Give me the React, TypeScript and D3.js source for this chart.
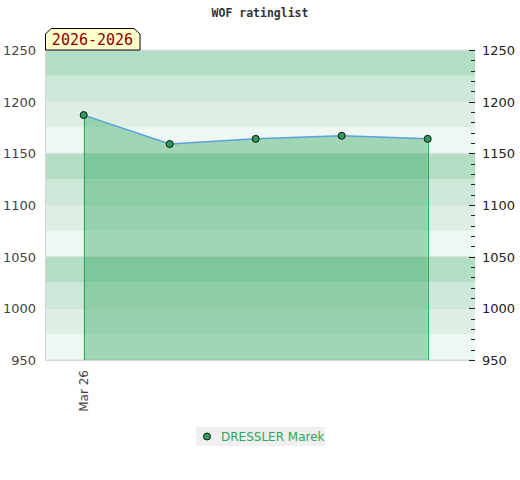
import { useEffect, useRef } from "react"
import * as d3 from "d3"

// ratings over time for one player
const dates = ["Mar 26", "", "", "", ""]
const ratings = [1187, 1159, 1164, 1167, 1164]
const yTicks = [950, 1000, 1050, 1100, 1150, 1200, 1250]
const bandColors = ["#b3dec5", "#cbe8d8", "#ddefe5", "#eff7f2"]
const playerName = "DRESSLER Marek"
const periodLabel = "2026-2026"
const title = "WOF ratinglist"

const App = () => {
  const svgRef = useRef<SVGSVGElement | null>(null)

  useEffect(() => {
    if (!svgRef.current) return
    const svg = d3.select(svgRef.current)
    svg.selectAll("*").remove()

    const width = 520
    const height = 480
    const margin = { top: 50, right: 45, bottom: 120, left: 45 }
    const x0 = margin.left
    const x1 = width - margin.right
    const y0 = height - margin.bottom
    const y1 = margin.top

    const x = d3.scaleLinear().domain([-0.45, dates.length - 0.45]).range([x0, x1])
    const y = d3.scaleLinear().domain([950, 1250]).range([y0, y1])

    // background bands every 25 points
    const bands = d3.range(950, 1250, 25)
    svg
      .append("g")
      .selectAll("rect")
      .data(bands)
      .join("rect")
      .attr("x", x0)
      .attr("width", x1 - x0)
      .attr("y", (d) => y(d + 25))
      .attr("height", (d) => y(d) - y(d + 25))
      .attr("fill", (d) => bandColors[3 - ((d - 950) / 25) % 4])

    // grid lines
    svg
      .append("g")
      .selectAll("line")
      .data(yTicks)
      .join("line")
      .attr("x1", x0)
      .attr("x2", x1)
      .attr("y1", (d) => y(d))
      .attr("y2", (d) => y(d))
      .attr("stroke", "#dddddd")
      .attr("stroke-width", 1)

    // frame
    svg
      .append("path")
      .attr("d", `M${x0 + 0.5},${y0}V${y1 + 0.5}H${x1}`)
      .attr("fill", "none")
      .attr("stroke", "#d6d6d6")
    svg
      .append("line")
      .attr("x1", x0)
      .attr("x2", x1)
      .attr("y1", y0 + 0.5)
      .attr("y2", y0 + 0.5)
      .attr("stroke", "#d6d6d6")

    const pts = ratings.map((r, i) => [i, r] as [number, number])

    // area
    const area = d3
      .area<[number, number]>()
      .x((d) => x(d[0]))
      .y0(y0)
      .y1((d) => y(d[1]))
    svg
      .append("path")
      .attr("d", area(pts))
      .attr("fill", "#2ea65a")
      .attr("fill-opacity", 0.4)

    // green edges of the area
    const ends = [pts[0], pts[pts.length - 1]]
    svg
      .append("g")
      .selectAll("line")
      .data(ends)
      .join("line")
      .attr("x1", (d) => Math.round(x(d[0])) + 0.5)
      .attr("x2", (d) => Math.round(x(d[0])) + 0.5)
      .attr("y1", (d) => y(d[1]))
      .attr("y2", y0)
      .attr("stroke", "#2ea65a")
      .attr("stroke-width", 1)

    // line
    const line = d3
      .line<[number, number]>()
      .x((d) => x(d[0]))
      .y((d) => y(d[1]))
    svg
      .append("path")
      .attr("d", line(pts))
      .attr("fill", "none")
      .attr("stroke", "#5aa0dc")
      .attr("stroke-width", 1.5)

    // points
    svg
      .append("g")
      .selectAll("circle")
      .data(pts)
      .join("circle")
      .attr("cx", (d) => x(d[0]))
      .attr("cy", (d) => y(d[1]))
      .attr("r", 3.5)
      .attr("fill", "#2e9e5a")
      .attr("stroke", "#111")
      .attr("stroke-width", 1)

    // left axis labels
    svg
      .append("g")
      .selectAll("text")
      .data(yTicks)
      .join("text")
      .attr("x", x0 - 9)
      .attr("y", (d) => y(d) + 5)
      .attr("text-anchor", "end")
      .attr("font-family", "DejaVu Sans, sans-serif")
      .attr("font-size", 13)
      .attr("fill", "#444")
      .text((d) => d)

    // right axis ticks and labels
    svg
      .append("g")
      .selectAll("line")
      .data(d3.range(950, 1251, 10))
      .join("line")
      .attr("x1", (d) => (d % 50 === 0 ? x1 - 6 : x1 - 4))
      .attr("x2", x1)
      .attr("y1", (d) => Math.round(y(d)) + 0.5)
      .attr("y2", (d) => Math.round(y(d)) + 0.5)
      .attr("stroke", "#222")
    svg
      .append("g")
      .selectAll("text")
      .data(yTicks)
      .join("text")
      .attr("x", x1 + 7)
      .attr("y", (d) => y(d) + 5)
      .attr("font-family", "DejaVu Sans, sans-serif")
      .attr("font-size", 13)
      .attr("fill", "#222")
      .text((d) => d)

    // x labels
    svg
      .append("g")
      .selectAll("text")
      .data(dates)
      .join("text")
      .attr("transform", (_, i) => `translate(${x(i) + 4},${y0 + 10}) rotate(-90)`)
      .attr("text-anchor", "end")
      .attr("font-family", "DejaVu Sans, sans-serif")
      .attr("font-size", 12)
      .attr("fill", "#444")
      .text((d) => d)

    // title
    svg
      .append("text")
      .attr("x", width / 2)
      .attr("y", 17)
      .attr("text-anchor", "middle")
      .attr("font-family", "DejaVu Sans Mono, monospace")
      .attr("font-weight", "bold")
      .attr("font-size", 11.5)
      .attr("fill", "#333")
      .text(title)

    // period label box with cut corners
    const bx = x0
    const bw = 95
    const by = 28
    const bh = 22
    svg
      .append("path")
      .attr(
        "d",
        `M${bx + 0.5},${by + bh}V${by + 6}L${bx + 6},${by + 0.5}H${bx + bw - 6}L${bx + bw},${by + 6}V${by + bh}Z`,
      )
      .attr("fill", "#ffffcc")
      .attr("stroke", "#000")
      .attr("stroke-width", 1)
    svg
      .append("text")
      .attr("x", bx + bw / 2)
      .attr("y", by + 17)
      .attr("text-anchor", "middle")
      .attr("font-family", "DejaVu Sans Mono, monospace")
      .attr("font-size", 15)
      .attr("fill", "#8b0000")
      .text(periodLabel)

    // legend
    const lg = svg.append("g").attr("transform", "translate(196,427)")
    lg.append("rect").attr("width", 129).attr("height", 19).attr("fill", "#f0f0f0")
    lg.append("circle")
      .attr("cx", 11)
      .attr("cy", 9.5)
      .attr("r", 3.5)
      .attr("fill", "#2e9e5a")
      .attr("stroke", "#111")
    lg.append("text")
      .attr("x", 25)
      .attr("y", 14)
      .attr("font-family", "DejaVu Sans, sans-serif")
      .attr("font-size", 12)
      .attr("fill", "#2ea65a")
      .text(playerName)
  }, [])

  return <svg ref={svgRef} width={520} height={480} style={{ display: "block", position: "absolute", left: 0, top: 0 }} />
}

export default App
